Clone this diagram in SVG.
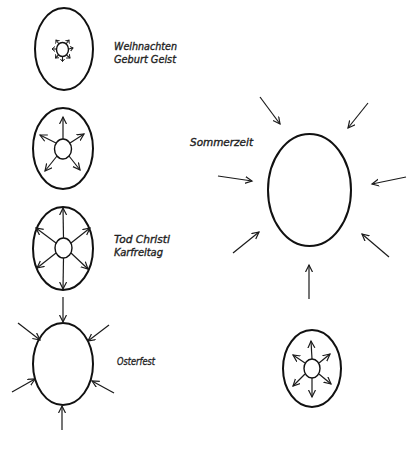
<svg xmlns="http://www.w3.org/2000/svg" width="415" height="453" viewBox="0 0 415 453">
<style>
.egg{fill:none;stroke:#111;stroke-width:2}
.yolk{fill:none;stroke:#111;stroke-width:1.4}
.arr{fill:none;stroke:#1a1a1a;stroke-width:1.2;marker-end:url(#ah)}
.sarr{fill:none;stroke:#1a1a1a;stroke-width:1.1;marker-end:url(#sah)}
.lbl{font-family:"DejaVu Sans","Liberation Sans",sans-serif;font-style:italic;font-weight:normal;font-size:10.5px;fill:#222;stroke:#222;stroke-width:0.35}
</style>
<defs>
<marker id="ah" markerUnits="userSpaceOnUse" markerWidth="10" markerHeight="10" refX="7" refY="4" orient="auto">
<path d="M0,0.5 L7,4 L0,7.5" fill="none" stroke="#1a1a1a" stroke-width="1.2"/>
</marker>
<marker id="sah" markerUnits="userSpaceOnUse" markerWidth="6" markerHeight="6" refX="3" refY="2.5" orient="auto">
<path d="M0,0 L3,2.5 L0,5" fill="none" stroke="#1a1a1a" stroke-width="1"/>
</marker>
</defs>
<rect width="415" height="453" fill="#fff"/>

<g id="weihnachten">
<ellipse class="egg" cx="64" cy="49" rx="29" ry="41"/>
<ellipse class="yolk" cx="62.5" cy="49.5" rx="6" ry="7"/>
<line class="sarr" x1="59" y1="44" x2="56" y2="40"/>
<line class="sarr" x1="66" y1="44" x2="69" y2="40"/>
<line class="sarr" x1="56.5" y1="49" x2="52" y2="49"/>
<line class="sarr" x1="68.5" y1="49" x2="73" y2="48"/>
<line class="sarr" x1="58.5" y1="55" x2="55.5" y2="58"/>
<line class="sarr" x1="62.5" y1="56.5" x2="62.5" y2="61.5"/>
<line class="sarr" x1="66.5" y1="55" x2="70" y2="58"/>
<text class="lbl" x="114" y="50" textLength="63" lengthAdjust="spacingAndGlyphs">Weihnachten</text>
<text class="lbl" x="114" y="63" textLength="62" lengthAdjust="spacingAndGlyphs">Geburt Geist</text>
</g>

<g id="egg2">
<ellipse class="egg" cx="63" cy="148.5" rx="30" ry="40.5"/>
<ellipse class="yolk" cx="63" cy="149" rx="8.5" ry="10"/>
<line class="arr" x1="63" y1="139" x2="63" y2="117"/>
<line class="arr" x1="56" y1="143" x2="40" y2="135"/>
<line class="arr" x1="70" y1="143" x2="84" y2="134"/>
<line class="arr" x1="57" y1="156" x2="45" y2="171"/>
<line class="arr" x1="69" y1="156" x2="80" y2="170"/>
</g>

<g id="karfreitag">
<ellipse class="egg" cx="63" cy="248.5" rx="30" ry="41.5"/>
<ellipse class="yolk" cx="63.5" cy="248" rx="8.5" ry="10"/>
<line class="arr" x1="63.5" y1="238" x2="63" y2="208"/>
<line class="arr" x1="63.5" y1="258" x2="63" y2="289"/>
<line class="arr" x1="56" y1="243" x2="36" y2="228"/>
<line class="arr" x1="71" y1="243" x2="90" y2="228"/>
<line class="arr" x1="56" y1="253" x2="37" y2="268"/>
<line class="arr" x1="71" y1="253" x2="88" y2="269"/>
<text class="lbl" x="114" y="243" textLength="56" lengthAdjust="spacingAndGlyphs">Tod Christi</text>
<text class="lbl" x="114" y="256" textLength="49" lengthAdjust="spacingAndGlyphs">Karfreitag</text>
</g>

<g id="osterfest">
<ellipse class="egg" cx="63" cy="364" rx="30" ry="41"/>
<line class="arr" x1="63" y1="297" x2="63" y2="322"/>
<line class="arr" x1="18" y1="323" x2="40" y2="340"/>
<line class="arr" x1="109" y1="325" x2="88" y2="341"/>
<line class="arr" x1="12" y1="392" x2="35" y2="379"/>
<line class="arr" x1="114" y1="393" x2="92" y2="381"/>
<line class="arr" x1="62" y1="430" x2="62" y2="406"/>
<text class="lbl" x="117" y="365" textLength="38" lengthAdjust="spacingAndGlyphs">Osterfest</text>
</g>

<g id="sommerzeit">
<ellipse class="egg" cx="309.5" cy="190" rx="41.5" ry="56"/>
<line class="arr" x1="260" y1="97" x2="280" y2="124"/>
<line class="arr" x1="368" y1="103" x2="348" y2="128"/>
<line class="arr" x1="218" y1="176" x2="252" y2="181"/>
<line class="arr" x1="406" y1="177" x2="372" y2="184"/>
<line class="arr" x1="233" y1="253" x2="259" y2="232"/>
<line class="arr" x1="389" y1="257" x2="362" y2="234"/>
<line class="arr" x1="309" y1="299" x2="309" y2="265"/>
<text class="lbl" x="190" y="146" textLength="63" lengthAdjust="spacingAndGlyphs">Sommerzeit</text>
</g>

<g id="egg5">
<ellipse class="egg" cx="312" cy="368.5" rx="29" ry="38.5"/>
<ellipse class="yolk" cx="312" cy="368.5" rx="8" ry="9.5"/>
<line class="arr" x1="312" y1="359" x2="311" y2="341"/>
<line class="arr" x1="312" y1="378" x2="312" y2="397"/>
<line class="arr" x1="305" y1="363" x2="293" y2="355"/>
<line class="arr" x1="319" y1="363" x2="330" y2="354"/>
<line class="arr" x1="305" y1="374" x2="293" y2="386"/>
<line class="arr" x1="319" y1="374" x2="331" y2="384"/>
</g>
</svg>
